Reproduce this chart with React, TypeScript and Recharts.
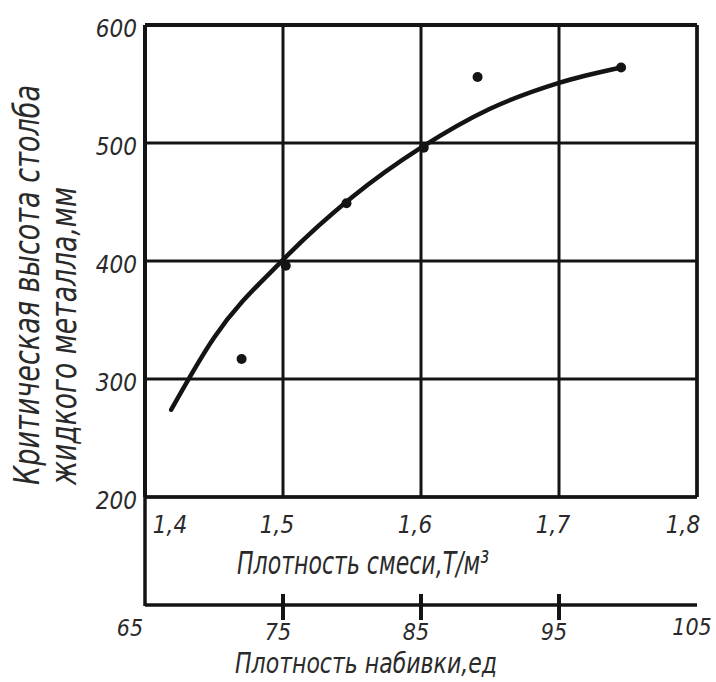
import { ComposedChart, Line, Scatter, XAxis, YAxis, CartesianGrid, ReferenceLine } from 'recharts'

const FONT = "'Liberation Sans Narrow', 'DejaVu Sans Condensed', 'Liberation Sans', sans-serif"
const INK = '#141414'
const TEXT = '#2a2a2a'

// оси
const densityTicks = [1.4, 1.5, 1.6, 1.7, 1.8]
const packingTicks = [65, 75, 85, 95, 105]
const heightTicks = [200, 300, 400, 500, 600]

// сглаженная кривая
const curveX = [1.419, 1.45, 1.5, 1.55, 1.6, 1.65, 1.7, 1.745]
const curveY = [274, 335, 401, 454, 496, 529, 551, 564]

// экспериментальные точки
const pointX = [1.47, 1.502, 1.546, 1.602, 1.641, 1.745]
const pointY = [317, 396, 449, 496, 556, 564]

const curve = curveX.map((x, i) => ({ x, y: curveY[i] }))
const points = pointX.map((x, i) => ({ x, y: pointY[i] }))

const AXIS1_H = 108
const AXIS2_H = 77

const txt = { fontFamily: FONT, fontStyle: 'italic' as const, fill: TEXT }

function HeightTick({ x, y, payload }: any) {
  return (
    <text x={x - 8} y={y + 12} textAnchor="end" fontSize={24} {...txt}>
      {payload.value}
    </text>
  )
}

function DensityTick({ x, y, payload, index }: any) {
  const last = densityTicks.length - 1
  const dx = index === 0 ? 25 : index === last ? -14 : -6
  return (
    <text x={x + dx} y={y + 36} textAnchor="middle" fontSize={24} {...txt}>
      {String(payload.value).replace('.', ',')}
    </text>
  )
}

function PackingTick({ x, y, payload, index }: any) {
  const last = packingTicks.length - 1
  const dx = index === 0 ? -15 : -5
  const dy = index === 0 ? 31 : index === last ? 30 : 35
  return (
    <g>
      {index === 0 && <line x1={x} x2={x} y1={y + 1} y2={y - AXIS1_H} stroke={INK} strokeWidth={3.5} />}
      {index > 0 && index < last && <line x1={x} x2={x} y1={y - 11} y2={y + 15} stroke={INK} strokeWidth={4} />}
      <text x={x + dx} y={y + dy} textAnchor="middle" fontSize={23} {...txt}>
        {payload.value}
      </text>
    </g>
  )
}

function YTitle({ viewBox }: any) {
  const bottom = viewBox.y + viewBox.height - 12
  const x1 = viewBox.x + 39
  const x2 = viewBox.x + 76
  return (
    <g fontSize={36} {...txt}>
      <text x={x1} y={bottom} transform={`rotate(-90 ${x1} ${bottom})`} textLength={400} lengthAdjust="spacingAndGlyphs">
        Критическая высота столба
      </text>
      <text x={x2} y={bottom} transform={`rotate(-90 ${x2} ${bottom})`} textLength={298} lengthAdjust="spacingAndGlyphs">
        жидкого металла,мм
      </text>
    </g>
  )
}

function DensityTitle({ viewBox }: any) {
  return (
    <text x={viewBox.x + 92} y={viewBox.y + 77} fontSize={32} textLength={252} lengthAdjust="spacingAndGlyphs" {...txt}>
      Плотность смеси,Т/м³
    </text>
  )
}

function PackingTitle({ viewBox }: any) {
  return (
    <text x={viewBox.x + 90} y={viewBox.y + 68} fontSize={29} textLength={262} lengthAdjust="spacingAndGlyphs" {...txt}>
      Плотность набивки,ед
    </text>
  )
}

export default function App() {
  return (
    <div style={{ position: 'fixed', left: 0, top: 0, width: 716, height: 682, background: '#fff' }}>
      <ComposedChart width={716} height={682} margin={{ top: 25, right: 19, bottom: 0, left: 0 }}>
        <CartesianGrid xAxisId="d" stroke={INK} strokeWidth={3} />
        <XAxis
          xAxisId="d"
          type="number"
          dataKey="x"
          domain={[1.4, 1.8]}
          ticks={densityTicks}
          height={AXIS1_H}
          axisLine={false}
          tickLine={false}
          tickSize={0}
          tickMargin={0}
          tick={<DensityTick />}
          label={<DensityTitle />}
          allowDataOverflow
        />
        <XAxis
          xAxisId="n"
          type="number"
          dataKey="x"
          domain={[65, 105]}
          ticks={packingTicks}
          height={AXIS2_H}
          axisLine={{ stroke: INK, strokeWidth: 3.5 }}
          tickLine={false}
          tickSize={0}
          tickMargin={0}
          tick={<PackingTick />}
          label={<PackingTitle />}
          allowDataOverflow
        />
        <YAxis
          type="number"
          domain={[200, 600]}
          ticks={heightTicks}
          width={145}
          axisLine={{ stroke: INK, strokeWidth: 4 }}
          tickLine={false}
          tickSize={0}
          tickMargin={0}
          tick={<HeightTick />}
          label={<YTitle />}
        />
        <ReferenceLine xAxisId="d" y={600} stroke={INK} strokeWidth={4} />
        <ReferenceLine xAxisId="d" y={200} stroke={INK} strokeWidth={3.5} />
        <ReferenceLine xAxisId="d" x={1.8} stroke={INK} strokeWidth={3.5} />
        <Line
          xAxisId="d"
          data={curve}
          dataKey="y"
          type="monotone"
          stroke={INK}
          strokeWidth={4.5}
          strokeLinecap="round"
          dot={false}
          activeDot={false}
          isAnimationActive={false}
        />
        <Scatter
          xAxisId="d"
          data={points}
          dataKey="y"
          fill={INK}
          shape={(p: any) => <circle cx={p.cx} cy={p.cy} r={5} fill={INK} />}
          isAnimationActive={false}
        />
        <Scatter xAxisId="n" data={[]} dataKey="y" isAnimationActive={false} legendType="none" />
      </ComposedChart>
    </div>
  )
}
